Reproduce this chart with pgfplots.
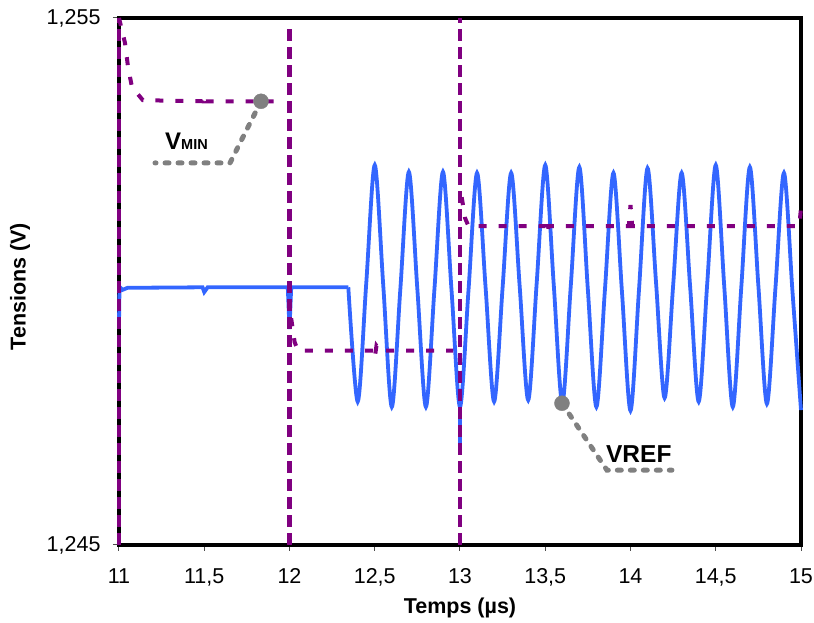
\documentclass[border=0pt]{standalone}
\usepackage{pgfplots}
\pgfplotsset{compat=1.18}
\usepackage{fontspec}
\setmainfont{Liberation Sans}
\definecolor{vref}{RGB}{51,102,255}
\definecolor{vmin}{RGB}{128,0,128}
\definecolor{callout}{RGB}{128,128,128}
\begin{document}
\begin{tikzpicture}
\useasboundingbox (-119pt,-78pt) rectangle (695pt,545pt);
\begin{axis}[
  at={(0pt,0pt)}, anchor=south west,
  scale only axis, width=682pt, height=527pt,
  xmin=11, xmax=15, ymin=1.245, ymax=1.255,
  clip=false,
  axis line style={line width=4.5pt, black},
  xtick={11,11.5,12,12.5,13,13.5,14,14.5,15},
  xticklabels={11,{11,5},12,{12,5},13,{13,5},14,{14,5},15},
  ytick={1.245,1.255},
  yticklabels={{1,245},{1,255}},
  tick align=outside, xtick pos=bottom, ytick pos=left,
  major tick length=6pt,
  tick style={line width=1pt, black!70},
  ticklabel style={font=\fontsize{21.5}{25}\selectfont},
  xticklabel style={yshift=-14pt},
  yticklabel style={xshift=-9pt},
  xlabel={\textbf{Temps (µs)}},
  ylabel={\textbf{Tensions (V)}},
  label style={font=\fontsize{21.5}{25}\selectfont},
  xlabel style={at={(axis description cs:0.5,-0.1195)}, anchor=center},
  ylabel style={at={(axis description cs:-0.1452,0.49)}, anchor=center},
]
% VREF
\addplot[vref, line width=3.8pt] coordinates {
 (11.0,1.2492) (11.003,1.24990) (11.02,1.24984) (11.05,1.24988) (11.49,1.24989)
 (11.50,1.24980) (11.52,1.24989) (11.99,1.24989) (12.0,1.2491) (12.01,1.24989) (12.345,1.24989)};
\addplot[vref, line width=3.8pt, smooth] coordinates {
 (12.345,1.24989) (12.40,1.24772) (12.45,1.24996) (12.50,1.25221) (12.55,1.24992)
 (12.60,1.24762) (12.65,1.24985) (12.70,1.25208) (12.75,1.24985) (12.80,1.24762)
 (12.85,1.24985) (12.90,1.25208) (12.95,1.24985) (13.00,1.24762) (13.05,1.24984)
 (13.10,1.25206) (13.15,1.24989) (13.20,1.24772) (13.25,1.24989) (13.30,1.25206)
 (13.35,1.24991) (13.40,1.24775) (13.45,1.24998) (13.50,1.25221) (13.55,1.24993)
 (13.60,1.24769) (13.65,1.24993) (13.70,1.25217) (13.75,1.24984) (13.80,1.24762)
 (13.85,1.24984) (13.90,1.25206) (13.95,1.24980) (14.00,1.24755) (14.05,1.24985)
 (14.10,1.25215) (14.15,1.24997) (14.20,1.24779) (14.25,1.24992) (14.30,1.25206)
 (14.35,1.24989) (14.40,1.24772) (14.45,1.24996) (14.50,1.25221) (14.55,1.24990)
 (14.60,1.24762) (14.65,1.24990) (14.70,1.25217) (14.75,1.24992) (14.80,1.24768)
 (14.85,1.24987) (14.90,1.25206) (14.95,1.24981) (15.00,1.24756)};
\addplot[vref, line width=3.8pt] coordinates {(13,1.2476) (13,1.2467)};
% VMIN vertical steps
\addplot[vmin, line width=4.5pt, dash pattern=on 12pt off 6pt] coordinates {(11,1.245) (11,1.255)};
\addplot[vmin, line width=4.5pt, dash pattern=on 12pt off 6pt] coordinates {(12,1.245) (12,1.2549)};
\addplot[vmin, line width=4.5pt, dash pattern=on 12pt off 6pt] coordinates {(13,1.245) (13,1.255)};
% VMIN levels
\addplot[vmin, line width=4pt, dash pattern=on 8pt off 12pt] coordinates {
 (11.0,1.2550) (11.035,1.25453) (11.053,1.25407) (11.076,1.25369) (11.14,1.25344)
 (11.49,1.25342) (11.50,1.25354) (11.51,1.25342) (11.93,1.25342)};
\addplot[vmin, line width=4pt, dash pattern=on 8pt off 12pt] coordinates {
 (12.01,1.2493) (12.03,1.24885) (12.05,1.24869) (12.49,1.24869) (12.50,1.24855)
 (12.51,1.24878) (12.53,1.24869) (12.96,1.24869)};
\addplot[vmin, line width=4pt, dash pattern=on 8pt off 12pt] coordinates {
 (13.01,1.2516) (13.03,1.2512) (13.05,1.25105) (13.50,1.25105) (13.51,1.25090)
 (13.52,1.25105) (13.99,1.25105) (14.00,1.25145) (14.01,1.25105) (14.99,1.25105) (15.0,1.2514)};
% callouts
\addplot[callout, line width=5pt, line cap=round, dash pattern=on 4pt off 9pt] coordinates {
 (11.833,1.25342) (11.651,1.25225) (11.211,1.25225)};
\addplot[callout, only marks, mark=*, mark size=7.5pt] coordinates {(11.833,1.25342)};
\addplot[callout, line width=5pt, line cap=round, dash pattern=on 4pt off 9pt] coordinates {
 (13.598,1.24769) (13.862,1.24642) (14.243,1.24642)};
\addplot[callout, only marks, mark=*, mark size=7.5pt] coordinates {(13.598,1.24769)};
\node[anchor=base west, inner sep=0pt] at (axis cs:11.27,1.2525)
 {\bfseries\fontsize{24}{24}\selectfont V\fontsize{14.5}{14.5}\selectfont MIN};
\node[anchor=base west, inner sep=0pt] at (axis cs:13.856,1.24656)
 {\bfseries\fontsize{24.5}{24.5}\selectfont VREF};
\end{axis}
\end{tikzpicture}
\end{document}
